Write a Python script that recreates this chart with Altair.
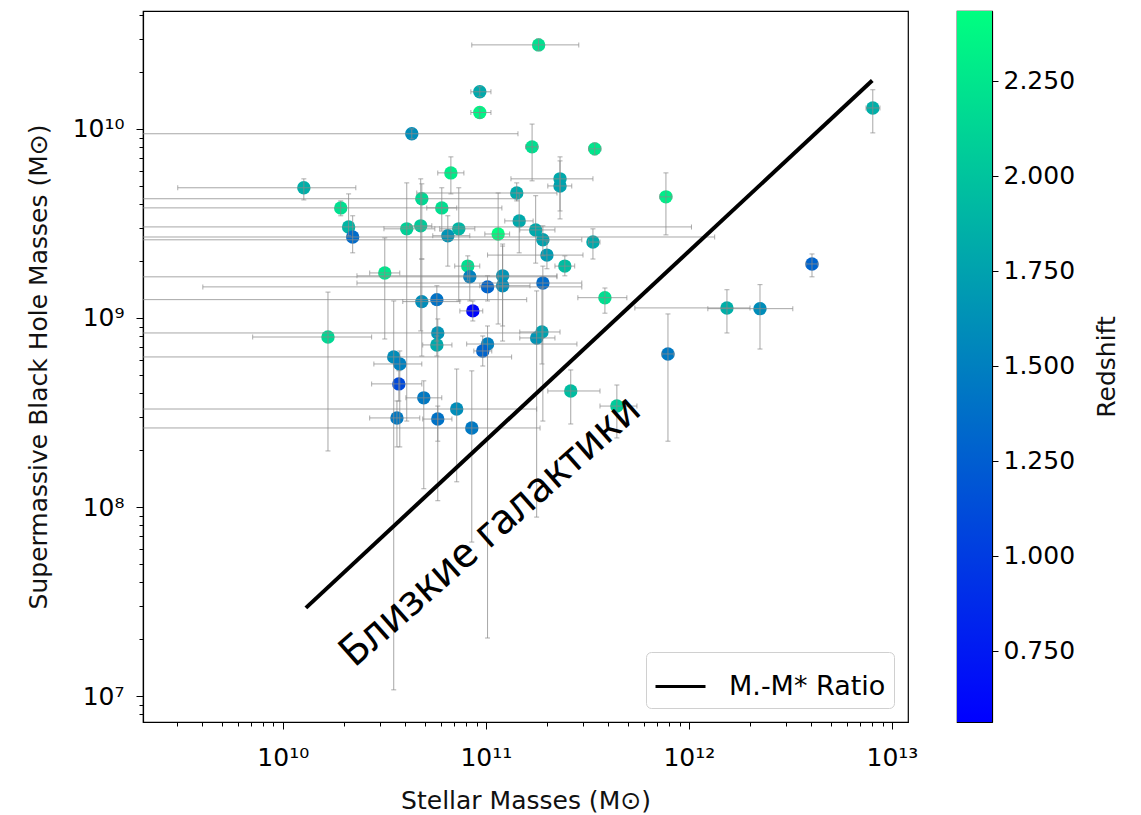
import altair as alt
import pandas as pd

# ---------------- data ----------------
stellar_mass = [
    1.82e11, 9.34e10, 9.34e10, 4.32e10, 1.69e11, 3.44e11, 6.73e10, 1.27e10, 2.32e11, 2.32e11,
    1.42e11, 4.84e10, 6.07e10, 1.46e11, 1.93e10, 2.11e10, 2.21e10, 3.18e10, 4.08e10, 4.78e10,
    6.50e10, 7.36e10, 1.15e11, 1.76e11, 1.91e11, 2.00e11, 3.37e11, 2.45e11, 8.15e10, 8.34e10,
    1.21e11, 1.21e11, 1.02e11, 1.91e11, 3.86e11, 4.84e10, 5.74e10, 8.63e10, 5.80e10, 1.02e11,
    9.66e10, 5.74e10, 1.67e10, 3.52e10, 3.77e10, 3.73e10, 4.95e10, 7.19e10, 3.65e10, 5.80e10,
    8.53e10, 1.78e11, 1.89e11, 2.62e11, 4.42e11,
    8.05e12, 7.71e11, 4.04e12, 1.54e12, 2.24e12, 7.89e11,
]
bh_mass = [
    2.78e10, 1.57e10, 1.22e10, 9.42e9, 8.03e9, 7.84e9, 5.85e9, 4.88e9, 5.44e9, 4.99e9,
    4.58e9, 4.27e9, 3.82e9, 3.26e9, 3.82e9, 3.03e9, 2.68e9, 1.73e9, 2.96e9, 3.07e9,
    2.72e9, 2.96e9, 2.78e9, 2.92e9, 2.59e9, 2.15e9, 2.52e9, 1.88e9, 1.88e9, 1.65e9,
    1.67e9, 1.48e9, 1.46e9, 1.53e9, 1.28e9, 1.22e9, 1.25e9, 1.09e9, 8.33e8, 7.28e8,
    6.69e8, 7.20e8, 7.93e8, 6.22e8, 5.71e8, 4.48e8, 3.78e8, 3.30e8, 2.96e8, 2.92e8,
    2.62e8, 7.84e8, 8.43e8, 4.11e8, 3.42e8,
    1.29e10, 4.37e9, 1.93e9, 1.13e9, 1.12e9, 6.45e8,
]
redshift = [
    2.20, 1.80, 2.35, 1.60, 2.20, 2.25, 2.30, 1.85, 1.80, 1.75,
    1.80, 2.15, 2.20, 1.80, 2.20, 1.90, 1.35, 2.25, 2.10, 2.05,
    1.65, 1.90, 2.43, 1.80, 1.75, 1.70, 1.80, 1.95, 2.20, 1.50,
    1.65, 1.60, 1.30, 1.35, 2.20, 1.60, 1.40, 0.60, 1.65, 1.50,
    1.30, 1.80, 2.15, 1.60, 1.50, 1.10, 1.45, 1.60, 1.45, 1.40,
    1.45, 1.65, 1.75, 1.95, 2.05,
    1.85, 2.30, 1.30, 1.85, 1.60, 1.45,
]
stellar_lo = [
    8.53e10, 8.44e10, 8.44e10, 1e9, 1.57e11, 3.21e11, 5.80e10, 3.04e9, 1.33e11, 2.02e11,
    4.57e10, 1e9, 5.12e10, 1.24e11, 1e9, 1e9, 1e9, 2.68e10, 3.15e10, 4.22e10,
    5.48e10, 5.93e10, 9.89e10, 1.47e11, 1e9, 1.02e11, 3.21e11, 2.19e11, 7.03e10, 1e9,
    2.32e10, 9.34e10, 4.04e9, 2.32e10, 2.84e11, 3.90e10, 1e9, 7.45e10, 1e9, 8.05e10,
    8.73e10, 4.89e10, 7.11e9, 1e9, 2.81e10, 2.74e10, 4.04e10, 1e9, 2.68e10, 4.89e10,
    1e9, 1.47e11, 1.47e11, 2.02e11, 3.65e11,
    7.45e12, 7.19e11, 3.77e12, 5.42e11, 1.24e12, 7.36e11,
]
stellar_hi = [
    2.87e11, 1.06e11, 1.06e11, 1.44e11, 1.80e11, 3.69e11, 7.80e10, 2.29e10, 3.37e11, 2.65e11,
    2.24e11, 1.42e11, 7.19e10, 1.71e11, 1.20e11, 1.03e12, 1.34e12, 3.77e10, 5.61e10, 5.42e10,
    8.34e10, 8.83e10, 1.31e11, 2.19e11, 2.97e11, 3.01e11, 3.65e11, 2.74e11, 9.34e10, 2.24e11,
    2.24e11, 1.65e11, 2.97e11, 2.97e11, 4.95e11, 7.45e10, 1.59e11, 9.66e10, 1.78e11, 2.81e11,
    1.07e11, 6.81e10, 2.74e10, 1.34e11, 4.84e10, 4.84e10, 6.07e10, 1.78e11, 4.73e10, 6.81e10,
    1.85e11, 2.19e11, 2.32e11, 3.65e11, 5.55e11,
    8.73e12, 8.24e11, 4.32e12, 2.00e12, 3.25e12, 8.44e11,
]
bh_lo = [
    2.59e10, 1.48e10, 1.14e10, 8.85e9, 5.31e9, 7.28e9, 4.53e9, 4.21e9, 3.34e9, 3.68e9,
    4.16e9, 2.05e9, 2.88e9, 2.21e9, 3.47e9, 2.72e9, 2.21e9, 7.74e8, 2.85e8, 8.54e8,
    1.88e9, 1.23e9, 9.29e8, 1.95e9, 2.13e9, 1.82e9, 2.05e9, 1.67e9, 1.57e9, 1.23e9,
    7.55e8, 9.07e8, 1.23e9, 2.85e8, 1.06e9, 6.29e8, 7.55e8, 9.64e8, 2.23e8, 2.03e7,
    5.57e8, 6.29e8, 1.98e8, 1.08e7, 2.08e8, 3.64e8, 1.25e8, 1.36e8, 2.08e8, 1.08e8,
    6.53e7, 8.85e7, 5.71e8, 2.75e8, 2.32e8,
    9.52e9, 2.75e9, 1.65e9, 8.33e8, 6.85e8, 2.23e8,
]
bh_hi = [
    2.99e10, 1.67e10, 1.29e10, 1.00e10, 1.06e10, 8.43e9, 7.11e9, 5.44e9, 7.11e9, 6.77e9,
    5.18e9, 5.12e9, 4.88e9, 4.58e9, 4.16e9, 4.53e9, 3.47e9, 2.65e9, 5.18e9, 5.44e9,
    3.47e9, 4.88e9, 4.58e9, 4.43e9, 3.07e9, 2.55e9, 2.96e9, 2.13e9, 2.13e9, 1.95e9,
    2.40e9, 2.46e9, 1.67e9, 1.88e9, 1.44e9, 2.05e9, 1.48e9, 1.23e9, 9.88e8, 9.07e8,
    8.03e8, 8.03e8, 1.37e9, 1.23e9, 6.69e8, 5.25e8, 4.65e8, 5.37e8, 3.64e8, 3.42e8,
    5.25e8, 1.39e9, 1.44e9, 5.31e8, 4.42e8,
    1.61e10, 5.85e9, 2.18e9, 1.41e9, 1.50e9, 1.05e9,
]

ratio_x = [1.3e10, 8.0e12]
ratio_y = [2.93e7, 1.8e10]
ratio_label = "M.-M* Ratio"

note_text = "Близкие галактики"
note_x = [1.05e11]
note_y = [7.46e7]

x_major = [1e10, 1e11, 1e12, 1e13]
x_major_labels = ["10¹⁰", "10¹¹", "10¹²", "10¹³"]
y_major = [1e7, 1e8, 1e9, 1e10]
y_major_labels = ["10⁷", "10⁸", "10⁹", "10¹⁰"]
cbar_ticks = [0.75, 1.0, 1.25, 1.5, 1.75, 2.0, 2.25]

XDOM = [2.05e9, 1.2e13]
YDOM = [7.3e6, 4.2e10]
ZDOM = [0.563, 2.434]

FONT = "DejaVu Sans"
FS = 25
ERR = "#8a8a8a"

# ---------------- helpers ----------------
def log_ticks(lo, hi, e0, e1):
    return [float(m * 10 ** e) for e in range(e0, e1) for m in range(1, 10)
            if lo <= m * 10 ** e <= hi]


def label_expr(vals, labels):
    s = "''"
    for v, l in reversed(list(zip(vals, labels))):
        s = f"datum.value == {v:g} ? '{l}' : ({s})"
    return s


def major_test(vals):
    return "indexof([" + ",".join(f"{v:g}" for v in vals) + "], datum.value) >= 0"


def cond(vals, major, minor):
    return {"condition": {"test": major_test(vals), "value": major}, "value": minor}


x_ticks = log_ticks(XDOM[0], XDOM[1], 9, 14)
y_ticks = log_ticks(YDOM[0], YDOM[1], 6, 11)

df = pd.DataFrame({
    "m": stellar_mass, "bh": bh_mass, "z": redshift,
    "mlo": stellar_lo, "mhi": stellar_hi, "bhlo": bh_lo, "bhhi": bh_hi,
})
line_df = pd.DataFrame({"x": ratio_x, "y": ratio_y, "label": [ratio_label] * 2})
note_df = pd.DataFrame({"x": note_x, "y": note_y, "t": [note_text]})

xscale = alt.Scale(type="log", domain=XDOM, nice=False)
yscale = alt.Scale(type="log", domain=YDOM, nice=False)

xaxis = alt.Axis(
    values=x_ticks, labelExpr=label_expr(x_major, x_major_labels),
    tickSize=cond(x_major, 7, 4), labelFontSize=cond(x_major, FS, 0),
    title="Stellar Masses (M⊙)", grid=False, labelOverlap=False, labelFlush=False,
    labelPadding=16, titlePadding=18,
)
yaxis = alt.Axis(
    values=y_ticks, labelExpr=label_expr(y_major, y_major_labels),
    tickSize=cond(y_major, 7, 4), labelFontSize=cond(y_major, FS, 0),
    title="Supermassive Black Hole Masses (M⊙)", grid=False, labelOverlap=False,
    labelFlush=False, labelPadding=12, titlePadding=21,
)

base = alt.Chart(df)
X = lambda f, **k: alt.X(f, type="quantitative", scale=xscale, **k)
Y = lambda f, **k: alt.Y(f, type="quantitative", scale=yscale, **k)

points = base.mark_circle(size=180, opacity=1, clip=True).encode(
    x=X("m", axis=xaxis), y=Y("bh", axis=yaxis),
    color=alt.Color("z:Q", scale=alt.Scale(domain=ZDOM, range=["#0000ff", "#00ff80"],
                                           interpolate="rgb"), legend=None),
)
hbar = base.mark_rule(color=ERR, strokeWidth=1, opacity=0.75, clip=True).encode(
    x=X("mlo"), x2="mhi", y=Y("bh"))
vbar = base.mark_rule(color=ERR, strokeWidth=1, opacity=0.75, clip=True).encode(
    x=X("m"), y=Y("bhlo"), y2="bhhi")
cap_l = base.mark_tick(orient="vertical", size=5, thickness=1, color=ERR, clip=True).encode(
    x=X("mlo"), y=Y("bh"))
cap_r = base.mark_tick(orient="vertical", size=5, thickness=1, color=ERR, clip=True).encode(
    x=X("mhi"), y=Y("bh"))
cap_b = base.mark_tick(orient="horizontal", size=5, thickness=1, color=ERR, clip=True).encode(
    x=X("m"), y=Y("bhlo"))
cap_t = base.mark_tick(orient="horizontal", size=5, thickness=1, color=ERR, clip=True).encode(
    x=X("m"), y=Y("bhhi"))

ratio = alt.Chart(line_df).mark_line(strokeWidth=4, clip=True).encode(
    x=X("x"), y=Y("y"),
    stroke=alt.Stroke("label:N", scale=alt.Scale(domain=[ratio_label], range=["black"]),
                      legend=alt.Legend(
                          title=None, orient="bottom-right", offset=14,
                          labelFontSize=27, labelFont=FONT, labelColor="black",
                          symbolType="stroke", symbolSize=2500, symbolStrokeWidth=3,
                          labelOffset=22, strokeColor="#d0d0d0", fillColor="white",
                          cornerRadius=5, padding=8)),
)
note = alt.Chart(note_df).mark_text(angle=318.5, fontSize=42, font="Noto Sans",
                                    color="black").encode(x=X("x"), y=Y("y"), text="t:N")

main = alt.layer(points, hbar, vbar, cap_l, cap_r, cap_b, cap_t, ratio, note).properties(
    width=765, height=711)

cbar_df = pd.DataFrame({"lo": [ZDOM[0]], "hi": [ZDOM[1]]})
cbar = alt.Chart(cbar_df).mark_rect(
    color=alt.Gradient(gradient="linear",
                       stops=[alt.GradientStop(color="#0000ff", offset=0),
                              alt.GradientStop(color="#00ff80", offset=1)],
                       x1=0, x2=0, y1=1, y2=0)
).encode(
    y=alt.Y("lo:Q", scale=alt.Scale(domain=ZDOM, nice=False, zero=False),
            axis=alt.Axis(orient="right", values=cbar_ticks, format=".3f", title="Redshift",
                          titleAngle=270, titleBaseline="top", tickSize=6, labelPadding=5,
                          titlePadding=20, grid=False)),
    y2="hi:Q",
    x=alt.value(0), x2=alt.value(35),
).properties(width=35, height=711)

chart = alt.hconcat(main, cbar, spacing=49, bounds="flush").resolve_legend(
    stroke="independent"
).properties(
    padding={"left": 17, "top": 2, "right": 4, "bottom": 0}
).configure_view(stroke="black", strokeWidth=1.2).configure_axis(
    labelFont=FONT, titleFont=FONT, labelFontSize=FS, titleFontSize=FS,
    titleFontWeight="normal", labelColor="black", titleColor="#111111",
    domainColor="black", tickColor="black", domainWidth=1.2,
)

chart.save("out.html", embed_options={"renderer": "svg", "actions": False})
